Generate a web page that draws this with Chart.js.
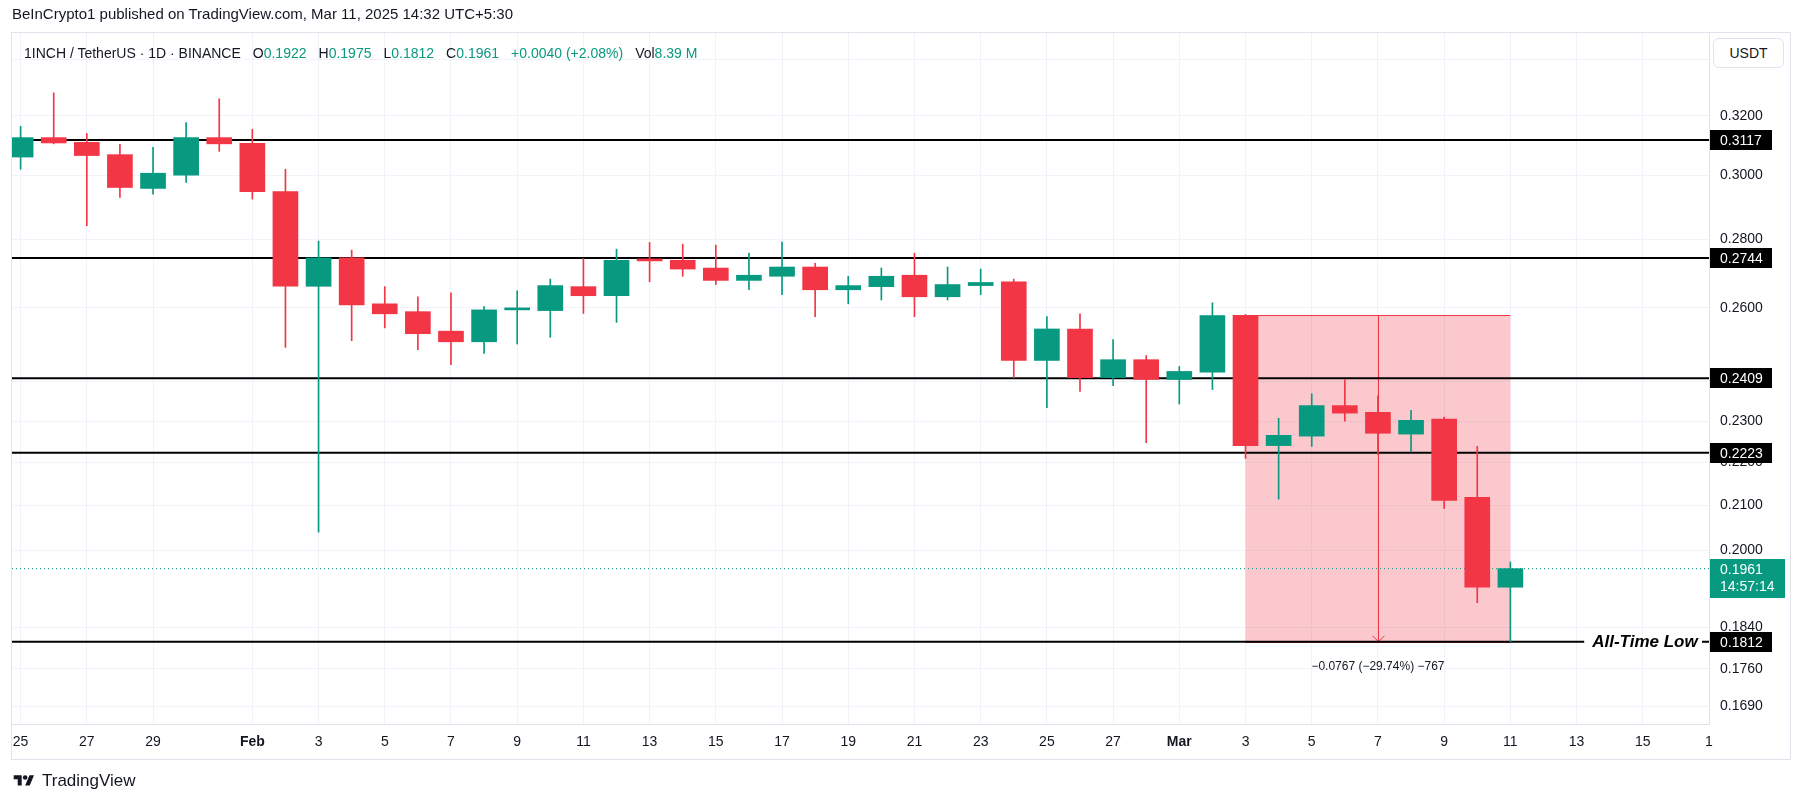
<!DOCTYPE html>
<html>
<head>
<meta charset="utf-8">
<script src="https://cdn.jsdelivr.net/npm/chart.js@4.4.1/dist/chart.umd.min.js"></script>
<style>
  html, body { margin: 0; padding: 0; background: #fff; }
  body { width: 1804px; height: 803px; position: relative; overflow: hidden;
         font-family: "Liberation Sans", Arial, sans-serif; color: #131722; }
  #chart { position: absolute; left: 0; top: 0; }
  .header { position: absolute; left: 12px; top: 5px; font-size: 15px; white-space: pre; }
  .legend { position: absolute; left: 24px; top: 45px; font-size: 14px; white-space: pre; }
  .legend span { margin-right: 12px; }
  .legend b { font-weight: normal; color: #089981; }
  .usdt { position: absolute; left: 1713px; top: 38px; width: 71px; height: 30px; box-sizing: border-box;
          border: 1px solid #e0e3eb; border-radius: 6px; background: #fff; font-size: 14px;
          line-height: 28px; text-align: center; }
  .footer { position: absolute; left: 12px; top: 771px; font-size: 17px; display: flex; align-items: center; }
  .footer svg { margin-right: 6px; }
</style>
</head>
<body>
<canvas id="chart" width="1804" height="803"></canvas>
<div class="header">BeInCrypto1 published on TradingView.com, Mar 11, 2025 14:32 UTC+5:30</div>
<div class="legend"><span>1INCH / TetherUS · 1D · BINANCE</span><span>O<b>0.1922</b></span><span>H<b>0.1975</b></span><span>L<b>0.1812</b></span><span>C<b>0.1961</b></span><span><b>+0.0040 (+2.08%)</b></span><span>Vol<b>8.39 M</b></span></div>
<div class="usdt">USDT</div>
<div class="footer"><svg width="24" height="16" viewBox="0 0 36 28"><path d="M14 22H7V11H0V4h14v18zM28 22h-8l7.5-18h8L28 22z" fill="#131722"/><circle cx="20" cy="8" r="4" fill="#131722"/></svg>TradingView</div>
<script>
// daily candles, Jan 25 .. Mar 11 2025 (x = day index)
const dates = ['Jan 25','Jan 26','Jan 27','Jan 28','Jan 29','Jan 30','Jan 31','Feb 1','Feb 2','Feb 3',
  'Feb 4','Feb 5','Feb 6','Feb 7','Feb 8','Feb 9','Feb 10','Feb 11','Feb 12','Feb 13',
  'Feb 14','Feb 15','Feb 16','Feb 17','Feb 18','Feb 19','Feb 20','Feb 21','Feb 22','Feb 23',
  'Feb 24','Feb 25','Feb 26','Feb 27','Feb 28','Mar 1','Mar 2','Mar 3','Mar 4','Mar 5',
  'Mar 6','Mar 7','Mar 8','Mar 9','Mar 10','Mar 11']
const opens = [0.3060, 0.3125, 0.3109, 0.3068, 0.2958, 0.3001, 0.3125, 0.3106, 0.2948, 0.2661,
  0.2744, 0.2611, 0.2589, 0.2535, 0.2506, 0.2594, 0.2592, 0.2660, 0.2634, 0.2741,
  0.2737, 0.2714, 0.2678, 0.2690, 0.2717, 0.2651, 0.2660, 0.2693, 0.2631, 0.2663,
  0.2674, 0.2456, 0.2541, 0.2411, 0.2458, 0.2406, 0.2425, 0.2579, 0.2240, 0.2263,
  0.2339, 0.2322, 0.2268, 0.2305, 0.2118, 0.1922]
const highs = [0.3163, 0.3280, 0.3139, 0.3102, 0.3092, 0.3176, 0.3259, 0.3153, 0.3020, 0.2794,
  0.2767, 0.2660, 0.2631, 0.2642, 0.2603, 0.2648, 0.2682, 0.2742, 0.2770, 0.2790,
  0.2785, 0.2782, 0.2758, 0.2791, 0.2728, 0.2690, 0.2714, 0.2758, 0.2717, 0.2711,
  0.2682, 0.2575, 0.2583, 0.2512, 0.2469, 0.2440, 0.2614, 0.2581, 0.2307, 0.2369,
  0.2406, 0.2364, 0.2327, 0.2310, 0.2238, 0.1975]
const lows = [0.3020, 0.3104, 0.2841, 0.2929, 0.2940, 0.2977, 0.3079, 0.2924, 0.2491, 0.2040,
  0.2509, 0.2544, 0.2485, 0.2445, 0.2475, 0.2500, 0.2518, 0.2584, 0.2559, 0.2674,
  0.2690, 0.2666, 0.2651, 0.2637, 0.2575, 0.2611, 0.2622, 0.2575, 0.2622, 0.2637,
  0.2410, 0.2334, 0.2375, 0.2390, 0.2247, 0.2343, 0.2380, 0.2209, 0.2114, 0.2238,
  0.2300, 0.2218, 0.2225, 0.2093, 0.1890, 0.1812]
const closes = [0.3125, 0.3107, 0.3065, 0.2961, 0.3007, 0.3125, 0.3104, 0.2948, 0.2661, 0.2744,
  0.2608, 0.2583, 0.2528, 0.2506, 0.2594, 0.2597, 0.2663, 0.2634, 0.2737, 0.2735,
  0.2711, 0.2678, 0.2693, 0.2717, 0.2651, 0.2663, 0.2690, 0.2631, 0.2666, 0.2672,
  0.2456, 0.2541, 0.2411, 0.2458, 0.2406, 0.2427, 0.2578, 0.2240, 0.2265, 0.2339,
  0.2320, 0.2270, 0.2302, 0.2111, 0.1922, 0.1961]

// horizontal levels drawn on the chart
const levels = [0.3117, 0.2744, 0.2409, 0.2223]
const allTimeLow = 0.1812
const lastPrice = 0.1961
const lastTime = '14:57:14'

// price range tool (Mar 3 -> Mar 11)
const rangeFrom = 37, rangeTo = 45, rangeMid = 41
const rangeTop = 0.2579, rangeBottom = 0.1812
const rangeText = '\u22120.0767 (\u221229.74%) \u2212767'

// axes
const xTickDays = [0, 2, 4, 7, 9, 11, 13, 15, 17, 19, 21, 23, 25, 27, 29, 31, 33, 35, 37, 39, 41, 43, 45, 47, 49, 51]
const xTickLabels = ['25', '27', '29', 'Feb', '3', '5', '7', '9', '11', '13', '15', '17', '19', '21', '23', '25', '27', 'Mar', '3', '5', '7', '9', '11', '13', '15', '1']
const yTicks = [0.34, 0.32, 0.30, 0.28, 0.26, 0.24, 0.23, 0.22, 0.21, 0.20, 0.184, 0.176, 0.169]
const yTickLabels = ['0.3400', '0.3200', '0.3000', '0.2800', '0.2600', '0.2400', '0.2300', '0.2200', '0.2100', '0.2000', '0.1840', '0.1760', '0.1690']

const xMin = -0.26, xMax = 51
const yMin = 0.16578, yMax = 0.34992
const atlLineEnd = 47.23, atlTagStart = 50.79

const UP = '#089981', DOWN = '#f23645'
const FONT = '"Liberation Sans", Arial, sans-serif'
const candleColor = c => closes[c.dataIndex] >= opens[c.dataIndex] ? UP : DOWN

const bodies = dates.map((d, i) => ({ x: i, y: [opens[i], closes[i]] }))
const wicks = dates.map((d, i) => ({ x: i, y: [lows[i], highs[i]] }))

const levelSets = levels.map(v => ({
  type: 'line', data: [{ x: xMin, y: v }, { x: xMax, y: v }],
  borderColor: '#000', borderWidth: 2, pointRadius: 0, order: 2
}))

const overlay = {
  id: 'overlay',
  beforeDatasetsDraw(chart) {
    const { ctx, scales: { x, y } } = chart
    const x1 = x.getPixelForValue(rangeFrom), x2 = x.getPixelForValue(rangeTo)
    const y1 = y.getPixelForValue(rangeTop), y2 = y.getPixelForValue(rangeBottom)
    const xm = Math.round(x.getPixelForValue(rangeMid)) + 0.5
    ctx.save()
    ctx.fillStyle = 'rgba(242, 54, 69, 0.27)'
    ctx.fillRect(x1, y1, x2 - x1, y2 - y1)
    ctx.strokeStyle = DOWN
    ctx.lineWidth = 1
    ctx.beginPath()
    ctx.moveTo(x1, Math.round(y1) + 0.5); ctx.lineTo(x2, Math.round(y1) + 0.5)
    ctx.moveTo(x1, Math.round(y2) + 0.5); ctx.lineTo(x2, Math.round(y2) + 0.5)
    ctx.moveTo(xm, y1); ctx.lineTo(xm, y2)
    ctx.moveTo(xm - 6, y2 - 6); ctx.lineTo(xm, y2); ctx.lineTo(xm + 6, y2 - 6)
    ctx.stroke()
    ctx.restore()
  },
  afterDraw(chart) {
    const { ctx, chartArea, scales: { x, y } } = chart
    ctx.save()
    // widget frame
    ctx.strokeStyle = '#e0e3eb'
    ctx.lineWidth = 1
    ctx.strokeRect(11.5, 32.5, 1779, 727)

    // measurement text under the range box
    ctx.fillStyle = '#131722'
    ctx.font = '12px ' + FONT
    ctx.textAlign = 'center'
    ctx.textBaseline = 'middle'
    ctx.fillText(rangeText, x.getPixelForValue(rangeMid), y.getPixelForValue(rangeBottom) + 25)

    // all-time-low tag
    ctx.fillStyle = '#000'
    ctx.font = 'italic bold 17px ' + FONT
    ctx.textAlign = 'left'
    ctx.fillText('All-Time Low', x.getPixelForValue(atlLineEnd) + 8, y.getPixelForValue(allTimeLow) + 1)

    // price labels on the axis
    const left = chartArea.right + 1
    ctx.font = '14px ' + FONT
    ;[...levels, allTimeLow].forEach(v => {
      const py = Math.round(y.getPixelForValue(v))
      ctx.fillStyle = '#000'
      ctx.fillRect(left, py - 10, 62, 20)
      ctx.fillStyle = '#fff'
      ctx.fillText(v.toFixed(4), left + 10, py + 1)
    })
    const pl = Math.round(y.getPixelForValue(lastPrice))
    ctx.fillStyle = UP
    ctx.fillRect(left, pl - 10, 75, 39)
    ctx.fillStyle = '#fff'
    ctx.fillText(lastPrice.toFixed(4), left + 10, pl + 1)
    ctx.fillText(lastTime, left + 10, pl + 18)
    ctx.restore()
  }
}

new Chart(document.getElementById('chart'), {
  type: 'bar',
  data: {
    datasets: [
      { label: 'body', data: bodies, order: 0, grouped: false, barThickness: 25, minBarLength: 2,
        backgroundColor: candleColor, borderWidth: 0 },
      { label: 'wick', data: wicks, order: 1, grouped: false, barThickness: 1,
        backgroundColor: candleColor, borderWidth: 0 },
      ...levelSets,
      { type: 'line', label: 'ATL',
        data: [{ x: xMin, y: allTimeLow }, { x: atlLineEnd, y: allTimeLow }, { x: 49, y: null },
               { x: atlTagStart, y: allTimeLow }, { x: xMax, y: allTimeLow }],
        borderColor: '#000', borderWidth: 2, pointRadius: 0, order: 2 },
      { type: 'line', label: 'last',
        data: [{ x: xMin, y: lastPrice }, { x: xMax, y: lastPrice }],
        borderColor: UP, borderWidth: 1, borderDash: [1, 3], pointRadius: 0, order: 3 }
    ]
  },
  options: {
    responsive: false,
    animation: false,
    events: [],
    layout: { padding: { left: 12, top: 33, right: 0, bottom: 0 } },
    plugins: { legend: { display: false }, tooltip: { enabled: false } },
    scales: {
      x: {
        type: 'linear', min: xMin, max: xMax, offset: false,
        grid: { offset: false, color: '#f0f3fa', drawTicks: false },
        border: { color: '#e0e3eb' },
        afterBuildTicks: axis => { axis.ticks = xTickDays.map(v => ({ value: v })) },
        afterFit: axis => { axis.height = 79 },
        ticks: {
          autoSkip: false, maxRotation: 0, padding: 10, color: '#131722',
          font: c => ({ family: FONT, size: 14, weight: ['Feb', 'Mar'].includes(xTickLabels[c.index]) ? 'bold' : 'normal' }),
          callback: (v, i) => xTickLabels[i]
        }
      },
      y: {
        type: 'logarithmic', position: 'right', min: yMin, max: yMax,
        grid: { color: '#f0f3fa', drawTicks: false },
        border: { color: '#e0e3eb' },
        afterBuildTicks: axis => { axis.ticks = yTicks.map(v => ({ value: v })) },
        afterFit: axis => { axis.width = 95 },
        ticks: {
          autoSkip: false, padding: 11, color: '#131722',
          font: { family: FONT, size: 14 },
          callback: (v, i) => yTickLabels[i]
        }
      }
    }
  },
  plugins: [overlay]
})
</script>
</body>
</html>
